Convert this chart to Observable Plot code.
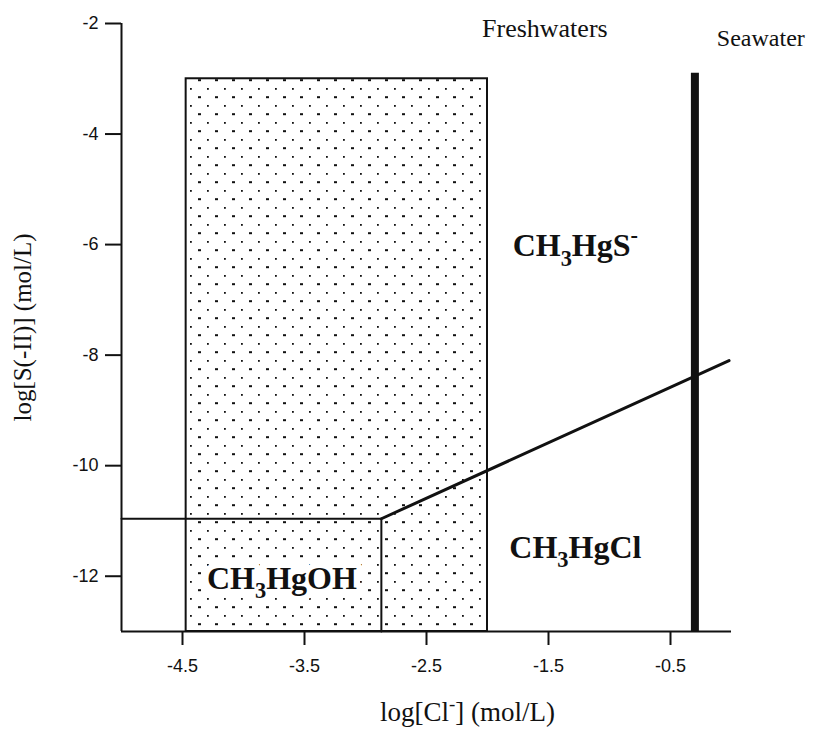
<!DOCTYPE html>
<html><head><meta charset="utf-8">
<script src="https://cdn.jsdelivr.net/npm/d3@7"></script>
<script src="https://cdn.jsdelivr.net/npm/@observablehq/plot@0.6"></script>
<style>body{margin:0;background:#fff}</style>
</head><body><div id="chart"></div>
<script>
// ---- data ----
const xTicks = [-4.5, -3.5, -2.5, -1.5, -0.5];
const yTicks = [-2, -4, -6, -8, -10, -12];
const freshwaters = [{x1: -4.47, x2: -2.0, y1: -13, y2: -3.0}];
const boundaryOH = [{x: -5, y: -10.96}, {x: -2.87, y: -10.96}];
const boundaryOHCl = [{x: -2.87, y: -10.96}, {x: -2.87, y: -13}];
const boundaryClS = [{x: -2.87, y: -10.96}, {x: -0.02, y: -8.1}];
const seawater = [{x: -0.3, y1: -2.9, y2: -13}];
const species = [
  {x: -1.28, y: -6.02, label: "CH_3HgS^-"},
  {x: -1.28, y: -11.48, label: "CH_3HgCl"},
  {x: -3.685, y: -12.04, label: "CH_3HgOH"}
];
const freshLabel = [{x: -1.53, y: -2.1, label: "Freshwaters"}];
const seaLabel = [{x: -0.12, y: -2.26, label: "Seawater"}];
const xLabel = "log[Cl^-] (mol/L)";
const yLabel = "log[S(-II)] (mol/L)";

const serif = "'Liberation Serif', 'Times New Roman', serif";
const sans = "'Liberation Sans', Arial, sans-serif";

const defs = () => {
  const d = d3.create("svg:defs");
  const p = d.append("pattern").attr("id", "stipple").attr("patternUnits", "userSpaceOnUse")
    .attr("width", 17).attr("height", 17);
  p.append("rect").attr("x", 3).attr("y", 3).attr("width", 1.8).attr("height", 1.8).attr("fill", "#111");
  p.append("rect").attr("x", 11).attr("y", 11.2).attr("width", 3).attr("height", 2).attr("fill", "#111");
  return d.node();
};

const speciesStyle = {x: "x", y: "y", text: "label", fontSize: 32, fontWeight: "bold", fontFamily: serif, lineAnchor: "middle"};

const chart = Plot.plot({
  width: 815, height: 739,
  marginLeft: 121, marginRight: 84, marginTop: 23, marginBottom: 108,
  x: {domain: [-5, 0]},
  y: {domain: [-13, -2]},
  style: {background: "#fff", color: "#111"},
  marks: [
    defs,
    Plot.rect(freshwaters, {x1: "x1", x2: "x2", y1: "y1", y2: "y2", fill: "url(#stipple)", stroke: "#111", strokeWidth: 2}),
    Plot.line(boundaryOH, {x: "x", y: "y", stroke: "#111", strokeWidth: 2}),
    Plot.line(boundaryOHCl, {x: "x", y: "y", stroke: "#111", strokeWidth: 2}),
    Plot.line(boundaryClS, {x: "x", y: "y", stroke: "#111", strokeWidth: 3}),
    Plot.ruleX(seawater, {x: "x", y1: "y1", y2: "y2", stroke: "#111", strokeWidth: 8}),
    Plot.ruleX([-5], {y1: -2, y2: -13, stroke: "#111", strokeWidth: 2}),
    Plot.ruleY([-13], {x1: -5, x2: 0, stroke: "#111", strokeWidth: 2}),
    Plot.axisX({ticks: xTicks, tickFormat: d => String(d), tickSize: 14, tickPadding: 14,
      fontSize: 18, fontFamily: sans, label: null, strokeWidth: 2}),
    Plot.axisY({ticks: yTicks, tickFormat: d => String(d), tickSize: 16, tickPadding: 7,
      fontSize: 18, fontFamily: sans, label: null, strokeWidth: 2}),
    Plot.text(freshLabel, {x: "x", y: "y", text: "label", textAnchor: "middle", fontSize: 26, fontFamily: serif, fill: "#111", lineAnchor: "middle"}),
    Plot.text(seaLabel, {x: "x", y: "y", text: "label", textAnchor: "start", fontSize: 24, fontFamily: serif, fill: "#111", lineAnchor: "middle"}),
    Plot.text(species, {...speciesStyle, fill: "#fff", stroke: "#fff", strokeWidth: 12}),
    Plot.text(species, {...speciesStyle, fill: "#111"}),
    Plot.text([xLabel], {frameAnchor: "bottom", dx: 41, dy: 81, text: d => d, textAnchor: "middle", fontSize: 27, fontFamily: serif, fill: "#111", lineAnchor: "middle"}),
    Plot.text([yLabel], {frameAnchor: "left", dx: -99, rotate: -90, text: d => d, textAnchor: "middle", fontSize: 25, fontFamily: serif, fill: "#111", lineAnchor: "middle"})
  ]
});

document.getElementById("chart").appendChild(chart);

// rich text: _x subscript, ^x superscript
d3.select(chart).selectAll("text").each(function() {
  const t = d3.select(this);
  if (this.querySelector("tspan")) return;
  const s = t.text();
  if (!/[_^]/.test(s)) return;
  const fs = parseFloat(getComputedStyle(this).fontSize) || 24;
  t.text("");
  const parts = [];
  const re = /([_^])(.)/g;
  let last = 0, m;
  while ((m = re.exec(s))) {
    if (m.index > last) parts.push({text: s.slice(last, m.index), shift: 0});
    parts.push({text: m[2], shift: m[1] === "_" ? 0.3 : -0.42});
    last = m.index + 2;
  }
  if (last < s.length) parts.push({text: s.slice(last), shift: 0});
  let cur = 0;
  for (const p of parts) {
    const target = p.shift * fs;
    const ts = t.append("tspan").text(p.text);
    if (target !== cur) ts.attr("dy", (target - cur).toFixed(2));
    if (p.shift !== 0) ts.attr("font-size", (fs * 0.7).toFixed(1));
    cur = target;
  }
});
</script>
</body></html>
